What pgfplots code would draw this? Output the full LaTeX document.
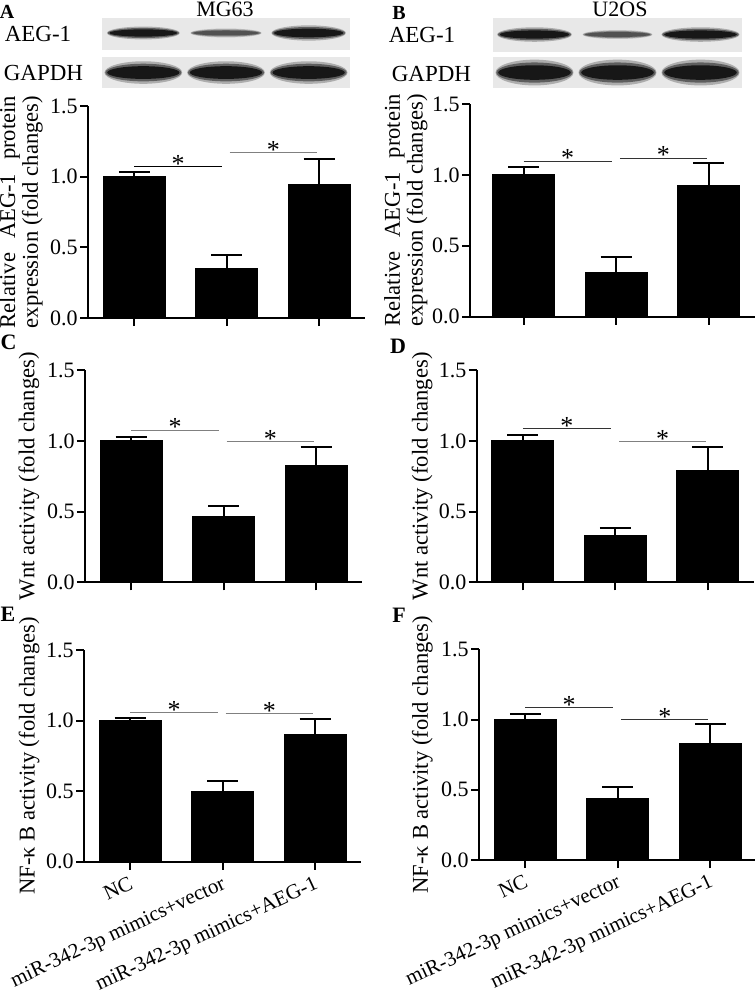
\documentclass[border=0pt]{standalone}
\usepackage{fontspec}
\setmainfont{Liberation Serif}
\usepackage{pgfplots}
\pgfplotsset{compat=1.18}
\usepackage{pgfplotstable}

\pgfplotstableread{
x y e
0 1.000 0.035
1 0.350 0.098
2 0.946 0.179
}\dataA
\pgfplotstableread{
x y e
0 1.000 0.054
1 0.310 0.109
2 0.922 0.164
}\dataB
\pgfplotstableread{
x y e
0 1.000 0.025
1 0.464 0.078
2 0.823 0.134
}\dataC
\pgfplotstableread{
x y e
0 1.000 0.044
1 0.328 0.056
2 0.790 0.167
}\dataD
\pgfplotstableread{
x y e
0 1.000 0.020
1 0.500 0.072
2 0.900 0.114
}\dataE
\pgfplotstableread{
x y e
0 1.000 0.043
1 0.439 0.081
2 0.826 0.142
}\dataF

\pgfplotsset{
  barax/.style={
    scale only axis, anchor=south west, clip=false,
    width=138.75pt, height=106pt,
    xmin=-0.5, xmax=2.5, ymin=0, ymax=1.5,
    axis lines=left, axis line style={-, line width=1pt},
    xtick={0,1,2}, xticklabels={}, ytick={0,0.5,1,1.5},
    tick align=outside, major tick length=4pt,
    every tick/.style={black, line width=1pt},
    /pgf/number format/assume math mode=true,
    yticklabel style={/pgf/number format/.cd, fixed, fixed zerofill, precision=1, /tikz/.cd, inner sep=1pt},
    tick label style={font=\fontsize{11}{11}\selectfont},
    ylabel style={anchor=center, align=center, font=\fontsize{11.3}{10}\selectfont},
  },
  ylab/.style={ylabel style={at={(axis description cs:#1,0.5)}}},
  blotax/.style={
    scale only axis, anchor=south west, clip=false, hide axis,
    height=35pt, xmin=-0.5, xmax=2.5, ymin=0, ymax=1,
  },
  bottomlabels/.style={
    xticklabels={NC, {miR-342-3p mimics+vector}, {miR-342-3p mimics+AEG-1}},
    xticklabel style={rotate=25, anchor=north east, inner sep=2pt, font=\fontsize{10.5}{11}\selectfont},
  },
}

\newcommand\twolinelabel{\setbox0\hbox{expression (fold changes)}\makebox[\wd0][s]{Relative AEG-1 protein}\\expression (fold changes)}

\newcommand\bars[1]{%
  \addplot[ybar, bar width=0.67, fill=black, draw=black, line width=0.5pt,
    error bars/.cd, y dir=plus, y explicit,
    error bar style={line width=1pt, black},
    error mark options={rotate=90, mark size=7.75pt, line width=1pt, black}]
    table[x=x, y=y, y error=e] {#1};}

\newcommand\sig[4]{% x1, x2, y, colour
  \addplot[line width=0.5pt, color=#4, forget plot] coordinates {(#1,#3) (#2,#3)};
  \node[anchor=base, font=\fontsize{13}{13}\selectfont, yshift=-2.8pt] at (axis cs:{(#1+#2)/2},#3) {*};}

\newcommand\band[5]{% x, y, rx, ry, colour
  \fill[#5, opacity=.25] (axis cs:#1,#2) ellipse [x radius=#3, y radius={1.15*#4}];
  \fill[#5, opacity=.45] (axis cs:#1,#2) ellipse [x radius={0.98*#3}, y radius={0.9*#4}];
  \fill[#5, opacity=.75] (axis cs:#1,#2) ellipse [x radius={0.93*#3}, y radius={0.65*#4}];}

\begin{document}
\begin{tikzpicture}
\useasboundingbox (0,0) rectangle (377.5pt,-501.5pt);

% ---------- Blots ----------
\begin{axis}[blotax, at={(51pt,-44pt)}, width=124pt]
  \fill[black!9] (axis cs:-0.5,0.543) rectangle (axis cs:2.5,1);
  \fill[black!9] (axis cs:-0.5,0) rectangle (axis cs:2.5,0.443);
  \band{0}{0.786}{0.44}{0.08}{black}
  \band{1}{0.786}{0.43}{0.055}{black!75}
  \band{2}{0.786}{0.45}{0.095}{black}
  \band{0}{0.221}{0.47}{0.14}{black}
  \band{1}{0.221}{0.47}{0.14}{black}
  \band{2}{0.221}{0.47}{0.14}{black}
\end{axis}
\begin{axis}[blotax, at={(246.5pt,-44pt)}, width=124.5pt]
  \fill[black!9] (axis cs:-0.5,0.514) rectangle (axis cs:2.5,1);
  \fill[black!9] (axis cs:-0.5,0) rectangle (axis cs:2.5,0.443);
  \band{0}{0.764}{0.45}{0.09}{black}
  \band{1}{0.764}{0.42}{0.055}{black!75}
  \band{2}{0.764}{0.47}{0.09}{black}
  \band{0}{0.221}{0.47}{0.16}{black}
  \band{1}{0.221}{0.47}{0.16}{black}
  \band{2}{0.221}{0.47}{0.16}{black}
\end{axis}

\node[font=\bfseries\fontsize{10}{10}\selectfont] at (3.5pt,-6pt) {A};
\node[font=\fontsize{11}{11}\selectfont] at (112.5pt,-4.5pt) {MG63};
\node[font=\fontsize{11.5}{11.5}\selectfont] at (19pt,-17pt) {AEG-1};
\node[font=\fontsize{11.5}{11.5}\selectfont] at (21.75pt,-36.5pt) {GAPDH};
\node[font=\bfseries\fontsize{10}{10}\selectfont] at (199.5pt,-6.5pt) {B};
\node[font=\fontsize{11}{11}\selectfont] at (310pt,-4.5pt) {U2OS};
\node[font=\fontsize{11.5}{11.5}\selectfont] at (211pt,-17.25pt) {AEG-1};
\node[font=\fontsize{11.5}{11.5}\selectfont] at (215.75pt,-36.75pt) {GAPDH};
\node[font=\bfseries\fontsize{11}{11}\selectfont] at (4.25pt,-171pt) {C};
\node[font=\bfseries\fontsize{11}{11}\selectfont] at (199pt,-173pt) {D};
\node[font=\bfseries\fontsize{11}{11}\selectfont] at (4pt,-307pt) {E};
\node[font=\bfseries\fontsize{11}{11}\selectfont] at (199.5pt,-307.5pt) {F};

% ---------- A ----------
\begin{axis}[barax, at={(44pt,-159pt)}, ylab=-0.241,
  ylabel={\twolinelabel}]
  \bars{\dataA}
  \sig{0}{0.95}{1.07}{black}
  \sig{1.03}{1.98}{1.168}{gray}
\end{axis}
% ---------- B ----------
\begin{axis}[barax, at={(235pt,-158.35pt)}, xmin=-0.58, width=142.5pt, height=106.35pt, ylab=-0.225,
  ylabel={\twolinelabel}]
  \bars{\dataB}
  \sig{0}{0.95}{1.098}{black!80}
  \sig{1.04}{1.98}{1.117}{black!80}
\end{axis}
% ---------- C ----------
\begin{axis}[barax, at={(42.5pt,-291.15pt)}, ylab=-0.202,
  ylabel={Wnt activity (fold changes)}]
  \bars{\dataC}
  \sig{0}{0.95}{1.076}{gray}
  \sig{1.03}{1.98}{0.993}{gray}
\end{axis}
% ---------- D ----------
\begin{axis}[barax, at={(238.35pt,-291.15pt)}, ylab=-0.197,
  ylabel={Wnt activity (fold changes)}]
  \bars{\dataD}
  \sig{0}{0.95}{1.085}{black!80}
  \sig{1.04}{1.98}{0.993}{gray}
\end{axis}
% ---------- E ----------
\begin{axis}[barax, bottomlabels, at={(42pt,-430.85pt)}, height=105.85pt, ylab=-0.198,
  ylabel={NF-κ B activity (fold changes)}]
  \bars{\dataE}
  \sig{0}{0.95}{1.054}{gray}
  \sig{1.03}{1.98}{1.05}{gray}
\end{axis}
% ---------- F ----------
\begin{axis}[barax, bottomlabels, at={(239.5pt,-430pt)}, height=105.35pt, ylab=-0.204,
  ylabel={NF-κ B activity (fold changes)}]
  \bars{\dataF}
  \sig{0}{0.95}{1.084}{black!80}
  \sig{1.04}{1.98}{1.0}{black!80}
\end{axis}
\end{tikzpicture}
\end{document}
